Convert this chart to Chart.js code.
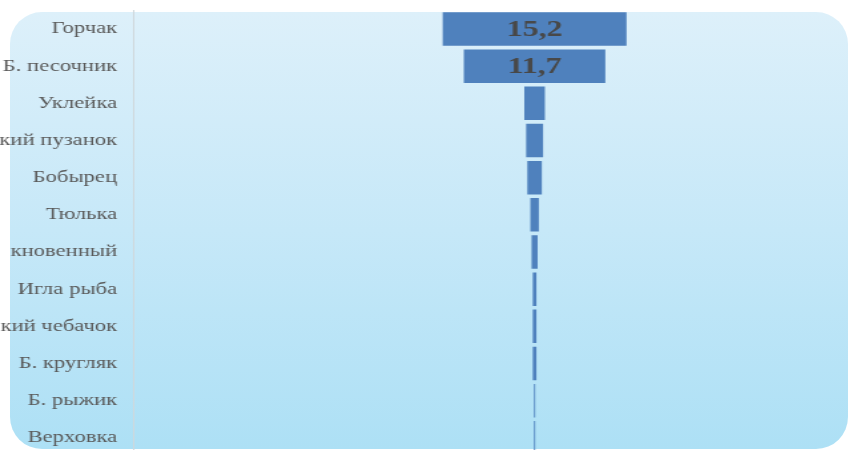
<!DOCTYPE html>
<html>
<head>
<meta charset="utf-8">
<script src="https://cdn.jsdelivr.net/npm/chart.js@4/dist/chart.umd.min.js"></script>
<style>
  html, body { margin: 0; padding: 0; background: #fff; overflow: hidden; }
  #page { position: relative; width: 849px; height: 450px; overflow: hidden; background: #fff; }
  #card {
    position: absolute; left: 10px; top: 12px; width: 838px; height: 437px;
    border-radius: 32px;
    background: linear-gradient(to bottom, #ddf0fa 0%, #c6e8f8 50%, #ade0f5 100%);
  }
  /* the source picture is stretched sideways, so the chart is too */
  #wrap {
    position: absolute; left: 0; top: 0; width: 638px; height: 460px;
    transform: scaleX(1.3307); transform-origin: 0 0;
  }
</style>
</head>
<body>
<div id="page">
  <div id="card"></div>
  <div id="wrap"><canvas id="funnel" width="638" height="460"></canvas></div>
</div>
<script>
const species = ['Горчак', 'Б. песочник', 'Уклейка', 'кий пузанок', 'Бобырец', 'Тюлька',
                 'кновенный', 'Игла рыба', 'кий чебачок', 'Б. кругляк', 'Б. рыжик', 'Верховка'];
const shares = [15.2, 11.7, 1.7, 1.4, 1.2, 0.7, 0.5, 0.3, 0.3, 0.3, 0.1, 0.1];

// funnel: each bar floats symmetrically around zero
const spans = shares.map(v => [-v / 2, v / 2]);

const barLabels = {
    id: 'barLabels',
    afterDatasetsDraw(chart) {
        const ctx = chart.ctx;
        const meta = chart.getDatasetMeta(0);
        ctx.save();
        ctx.font = 'bold 24px "Liberation Serif"';
        ctx.fillStyle = '#484848';
        ctx.textAlign = 'center';
        ctx.textBaseline = 'middle';
        meta.data.forEach((bar, i) => {
            const txt = shares[i].toFixed(1).replace('.', ',');
            const w = Math.abs(bar.x - bar.base);
            if (w > ctx.measureText(txt).width + 6) {
                ctx.fillText(txt, (bar.x + bar.base) / 2, bar.y + 1);
            }
        });
        ctx.restore();
    }
};

new Chart(document.getElementById('funnel').getContext('2d'), {
    type: 'bar',
    data: {
        labels: species,
        datasets: [{
            data: spans,
            backgroundColor: '#4f81bd',
            borderWidth: 0,
            barPercentage: 0.9,
            categoryPercentage: 1.0
        }]
    },
    options: {
        indexAxis: 'y',
        responsive: false,
        animation: false,
        layout: { padding: { top: 10.4, bottom: 3.6, left: 0, right: 0 } },
        plugins: { legend: { display: false }, tooltip: { enabled: false } },
        scales: {
            x: { display: false, min: -33.2, max: 26 },
            y: {
                afterFit(scale) {
                    scale.width = 100;
                    scale.paddingTop = 0;
                    scale.paddingBottom = 0;
                },
                grid: { display: false, drawTicks: false },
                border: { display: true, color: '#cfd8dc', width: 1 },
                ticks: {
                    padding: 12,
                    color: '#595959',
                    font: { family: '"Liberation Serif"', size: 17 }
                }
            }
        }
    },
    plugins: [barLabels]
});
</script>
</body>
</html>
